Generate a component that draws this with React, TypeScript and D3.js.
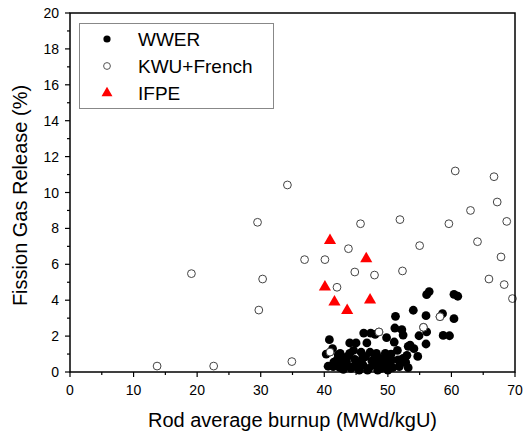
import React from "react";
import * as d3 from "d3";

const W = 524, H = 434;
const margin = { left: 70, right: 9, top: 13, bottom: 62 };

const xTicks = [0, 10, 20, 30, 40, 50, 60, 70];
const yTicks = [0, 2, 4, 6, 8, 10, 12, 14, 16, 18, 20];
const legendLabels = ["WWER", "KWU+French", "IFPE"];

const wwer: [number, number][] = [
  [40.8, 1.8], [40.3, 1.0], [40.6, 0.32], [41.3, 1.3], [41.4, 0.3], [42.0, 0.67], [42.5, 1.04], [42.7, 0.48],
  [43.0, 0.15], [43.5, 0.57], [43.8, 0.9], [44.0, 1.62], [44.0, 1.04], [44.5, 0.3], [44.8, 0.7], [45.0, 1.62],
  [45.1, 0.57], [45.5, 0.1], [45.8, 1.1], [46.1, 0.39], [46.2, 2.17], [46.5, 0.85], [46.7, 1.62], [47.0, 0.2],
  [47.3, 2.17], [47.2, 1.1], [47.5, 0.6], [47.7, 0.39], [48.0, 2.1], [48.2, 1.04], [48.5, 0.39], [48.8, 0.76],
  [48.4, 0.1], [49.3, 0.3], [49.6, 1.04], [49.8, 1.91], [50.1, 0.6], [50.3, 0.39], [50.0, 0.1], [50.6, 0.67],
  [51.0, 1.67], [51.2, 3.1], [51.1, 2.45], [51.6, 0.67], [51.8, 0.3], [52.2, 2.36], [52.4, 2.06], [52.4, 0.76],
  [53.0, 0.93], [53.2, 0.24], [53.2, 1.43], [53.5, 1.5], [54.1, 1.3], [54.0, 3.44], [54.7, 0.87], [54.9, 2.02],
  [56.0, 3.14], [56.0, 1.56], [56.1, 2.23], [56.1, 4.31], [56.5, 4.48], [58.6, 3.25], [58.7, 2.04], [59.7, 2.02],
  [60.4, 2.97], [60.4, 4.33], [61.0, 4.22],
  [41.5, 0.55], [42.2, 0.95], [43.2, 0.8], [44.2, 0.2], [45.3, 0.4], [46.8, 0.1], [47.9, 0.75], [49.0, 0.55],
  [50.8, 0.25], [51.5, 1.2], [52.8, 0.55], [42.4, 0.25], [43.6, 0.35], [46.0, 0.75], [48.9, 0.2], [49.5, 0.7],
  [50.5, 1.0], [52.0, 0.5], [44.6, 1.2],
];

const kwu: [number, number][] = [
  [13.7, 0.33], [22.6, 0.33], [19.1, 5.48], [29.5, 8.34], [29.7, 3.45], [30.3, 5.18], [34.2, 10.42], [34.9, 0.58],
  [36.9, 6.26], [40.1, 6.26], [42.0, 4.72], [43.8, 6.87], [44.8, 5.57], [45.7, 8.26], [47.9, 5.4], [51.9, 8.49],
  [52.3, 5.63], [55.0, 7.04], [60.6, 11.2], [59.6, 8.26], [63.0, 9.0], [64.1, 7.26], [65.9, 5.18], [66.7, 10.88],
  [67.2, 9.47], [68.7, 8.39], [67.8, 6.41], [68.3, 4.87], [69.6, 4.09], [58.2, 3.08], [55.6, 2.49], [48.6, 2.23],
  [40.9, 1.11],
];

const ifpe: [number, number][] = [
  [40.9, 7.33], [46.6, 6.31], [40.1, 4.74], [41.6, 3.9], [43.6, 3.42], [47.2, 4.01],
];

export default function App() {
  const x = d3.scaleLinear().domain([0, 70]).range([margin.left, W - margin.right]);
  const y = d3.scaleLinear().domain([0, 20]).range([H - margin.bottom, margin.top]);
  const tri = d3.symbol().type(d3.symbolTriangle).size(64)() as string;
  const triL = d3.symbol().type(d3.symbolTriangle).size(52)() as string;
  const font = "Arial, 'Liberation Sans', sans-serif";
  const x0 = x(0), x1 = x(70), y0 = y(0), y1 = y(20);
  const xMinor = d3.range(5, 70, 10);
  const yMinor = d3.range(1, 20, 2);

  return (
    <svg width={W} height={H} style={{ position: "absolute", left: 0, top: 0, background: "#fff" }} fontFamily={font}>
      {kwu.map((d, i) => (
        <circle key={"k" + i} cx={x(d[0])} cy={y(d[1])} r={3.9} fill="#fff" stroke="#444" strokeWidth={1} />
      ))}
      {wwer.map((d, i) => (
        <circle key={"w" + i} cx={x(d[0])} cy={y(d[1])} r={4.4} fill="#000" />
      ))}
      {kwu.filter(d => d[1] < 3.2 && d[0] > 40).map((d, i) => (
        <circle key={"k2" + i} cx={x(d[0])} cy={y(d[1])} r={3.9} fill="#fff" stroke="#444" strokeWidth={1} />
      ))}
      {ifpe.map((d, i) => (
        <path key={"t" + i} d={tri} transform={`translate(${x(d[0])},${y(d[1])})`} fill="#f00" />
      ))}

      <rect x={x0} y={y1} width={x1 - x0} height={y0 - y1} fill="none" stroke="#000" strokeWidth={1.5} />

      {xTicks.map(t => (
        <g key={"xt" + t}>
          <line x1={x(t)} x2={x(t)} y1={y0} y2={y0 + 5} stroke="#000" strokeWidth={1.2} />
          <text x={x(t)} y={y0 + 23} textAnchor="middle" fontSize={14} fill="#000">{t}</text>
        </g>
      ))}
      {xMinor.map(t => (
        <line key={"xm" + t} x1={x(t)} x2={x(t)} y1={y0} y2={y0 + 3} stroke="#000" strokeWidth={1.2} />
      ))}
      {yTicks.map(t => (
        <g key={"yt" + t}>
          <line x1={x0 - 5} x2={x0} y1={y(t)} y2={y(t)} stroke="#000" strokeWidth={1.2} />
          <text x={x0 - 11} y={y(t) + 5} textAnchor="end" fontSize={14} fill="#000">{t}</text>
        </g>
      ))}
      {yMinor.map(t => (
        <line key={"ym" + t} x1={x0 - 3} x2={x0} y1={y(t)} y2={y(t)} stroke="#000" strokeWidth={1.2} />
      ))}

      <text x={(x0 + x1) / 2} y={427} textAnchor="middle" fontSize={20} fill="#000">Rod average burnup (MWd/kgU)</text>
      <text transform={`translate(27,${(y0 + y1) / 2 + 3}) rotate(-90)`} textAnchor="middle" fontSize={20} fill="#000">Fission Gas Release (%)</text>

      <rect x={79.5} y={23.5} width={194} height={85} fill="#fff" stroke="#888" strokeWidth={1} />
      <circle cx={107} cy={39} r={3.6} fill="#000" />
      <circle cx={107} cy={66} r={3.4} fill="#fff" stroke="#555" strokeWidth={1} />
      <path d={triL} transform="translate(107,93)" fill="#f00" />
      {legendLabels.map((l, i) => (
        <text key={l} x={138} y={45.5 + i * 27} fontSize={19} fill="#000">{l}</text>
      ))}
    </svg>
  );
}
